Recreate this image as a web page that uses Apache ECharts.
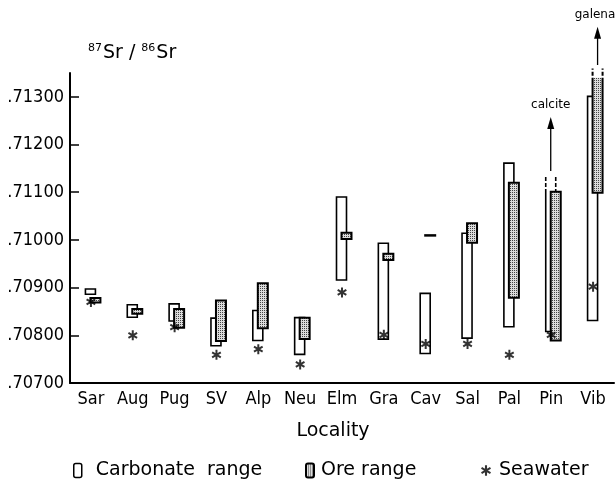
<!DOCTYPE html>
<html>
<head>
<meta charset="utf-8">
<script src="https://cdn.jsdelivr.net/npm/echarts@6/dist/echarts.min.js"></script>
<style>
  html, body { margin: 0; padding: 0; background: #fff; }
  #chart { width: 615px; height: 480px; }
</style>
</head>
<body>
<div id="chart"></div>
<script>
// 87Sr/86Sr ranges of carbonate host rocks and ores, with coeval seawater values
const categories = ['Sar', 'Aug', 'Pug', 'SV', 'Alp', 'Neu', 'Elm', 'Gra', 'Cav', 'Sal', 'Pal', 'Pin', 'Vib'];

const carbonateLow  = [0.70886, 0.70838, 0.70830, 0.70778, 0.70789, 0.70760, 0.70916, 0.70792, 0.70762, 0.70794, 0.70818, 0.70808, 0.70831];
const carbonateHigh = [0.70897, 0.70864, 0.70866, 0.70836, 0.70852, 0.70837, 0.71090, 0.70993, 0.70888, 0.71014, 0.71161, 0.71107, 0.71301];

const oreLow  = [0.70869, 0.70845, 0.70816, 0.70788, 0.70815, 0.70792, 0.71002, 0.70958, 0.71010, 0.70994, 0.70879, 0.70789, 0.71099];
const oreHigh = [0.70878, 0.70855, 0.70855, 0.70873, 0.70909, 0.70837, 0.71015, 0.70971, 0.71010, 0.71035, 0.71120, 0.71101, 0.71340];

const seawater = [0.70870, 0.70800, 0.70817, 0.70759, 0.70771, 0.70739, 0.70890, 0.70801, 0.70782, 0.70782, 0.70759, 0.70801, 0.70902];

// ranges that continue off the scale: arrow tip value and mineral label
const carbonateArrowTo    = [null, null, null, null, null, null, null, null, null, null, null, 0.71258, null];
const carbonateArrowLabel = [null, null, null, null, null, null, null, null, null, null, null, 'calcite', null];
const oreArrowTo    = [null, null, null, null, null, null, null, null, null, null, null, null, 0.71447];
const oreArrowLabel = [null, null, null, null, null, null, null, null, null, null, null, null, 'galena'];

const yTicks = [0.707, 0.708, 0.709, 0.710, 0.711, 0.712, 0.713];

const FONT = "'DejaVu Sans', sans-serif";
const FONT_NARROW = "'DejaVu Sans Condensed', 'DejaVu Sans', sans-serif";

// fine dot stipple used for the ore boxes
function makeStipple() {
  const c = document.createElement('canvas');
  c.width = 2; c.height = 2;
  const ctx = c.getContext('2d');
  ctx.fillStyle = '#dcdcdc';
  ctx.fillRect(0, 0, 2, 2);
  ctx.fillStyle = '#444';
  ctx.fillRect(0, 0, 1, 1);
  return c;
}
const stipple = { image: makeStipple(), repeat: 'repeat' };

// six-armed asterisk symbol
function asteriskPath() {
  const L = 5, W = 1.0;
  let d = '';
  [90, 30, -30].forEach(function (a) {
    const r = a * Math.PI / 180;
    const dx = Math.cos(r), dy = -Math.sin(r);
    const px = -dy, py = dx;
    const pts = [
      [L * dx + W * px, L * dy + W * py],
      [L * dx - W * px, L * dy - W * py],
      [-L * dx - W * px, -L * dy - W * py],
      [-L * dx + W * px, -L * dy + W * py]
    ];
    d += 'M' + pts.map(function (p) { return p[0].toFixed(3) + ',' + p[1].toFixed(3); }).join('L') + 'Z';
  });
  return 'path://' + d;
}
const ASTERISK = asteriskPath();

// box renderer: x0/x1 are pixel offsets from the category centre
function boxRenderer(x0, x1, fill, lw, arrowTo, arrowLabel) {
  return function (params, api) {
    const i = api.value(0);
    const lo = api.coord([i, api.value(1)]);
    const hi = api.coord([i, api.value(2)]);
    const cx = lo[0];
    const left = cx + x0, right = cx + x1;
    const yb = lo[1], yt = hi[1];
    const children = [];
    const tip = arrowTo[i];
    if (tip == null) {
      children.push({
        type: 'rect',
        shape: { x: left, y: yt, width: right - left, height: Math.max(yb - yt, 0.5) },
        style: { fill: fill, stroke: '#000', lineWidth: lw }
      });
    } else {
      // open-topped box, short dashed continuation and arrow to the off-scale value
      const tipPt = api.coord([i, tip]);
      const mid = (left + right) / 2;
      const span = yt - tipPt[1];
      const dashEnd = yt - span * 0.18;
      const arrowStart = yt - span * 0.25;
      children.push({
        type: 'rect',
        shape: { x: left, y: yt, width: right - left, height: yb - yt },
        style: { fill: fill, stroke: null }
      });
      children.push({
        type: 'polyline',
        shape: { points: [[left, yt], [left, yb], [right, yb], [right, yt]] },
        style: { fill: null, stroke: '#000', lineWidth: lw }
      });
      [left, right].forEach(function (x) {
        children.push({
          type: 'line',
          shape: { x1: x, y1: yt - 2, x2: x, y2: dashEnd },
          style: { stroke: '#000', lineWidth: lw, lineDash: [4, 2] }
        });
      });
      children.push({
        type: 'line',
        shape: { x1: mid, y1: arrowStart, x2: mid, y2: tipPt[1] + 8 },
        style: { stroke: '#000', lineWidth: 1.3 }
      });
      children.push({
        type: 'polygon',
        shape: { points: [[mid, tipPt[1]], [mid - 3.5, tipPt[1] + 12], [mid + 3.5, tipPt[1] + 12]] },
        style: { fill: '#000' }
      });
      children.push({
        type: 'text',
        style: {
          text: arrowLabel[i], x: Math.min(mid, 595), y: tipPt[1] - 6,
          align: 'center', verticalAlign: 'bottom',
          font: '12px ' + FONT, fill: '#000'
        }
      });
    }
    return { type: 'group', children: children };
  };
}

const chart = echarts.init(document.getElementById('chart'), null, { renderer: 'canvas' });

chart.setOption({
  animation: false,
  backgroundColor: '#fff',
  textStyle: { fontFamily: FONT, color: '#000' },
  title: {
    left: 83, top: 38,
    text: '{s|87}{m|Sr / }{s|86}{m|Sr}',
    textStyle: {
      fontWeight: 'normal',
      rich: {
        s: { fontSize: 11, fontFamily: FONT, fontWeight: 'normal', color: '#000', padding: [0, 1, 9, 0] },
        m: { fontSize: 19, fontFamily: FONT, fontWeight: 'normal', color: '#000' }
      }
    }
  },
  grid: { left: 70, right: 1, top: 73, bottom: 97 },
  xAxis: {
    type: 'category',
    data: categories,
    boundaryGap: true,
    axisLine: { lineStyle: { color: '#000', width: 2 } },
    axisTick: { alignWithLabel: true, inside: true, length: 9, lineStyle: { color: '#000', width: 1.5 } },
    axisLabel: { color: '#000', fontSize: 18, fontFamily: FONT_NARROW, margin: 7, interval: 0 },
    name: 'Locality',
    nameLocation: 'middle',
    nameGap: 39,
    nameTextStyle: { color: '#000', fontSize: 19, fontFamily: FONT, padding: [0, 18, 0, 0] }
  },
  yAxis: {
    type: 'value',
    min: 0.707,
    max: 0.7135,
    axisLine: { show: true, lineStyle: { color: '#000', width: 2 } },
    axisTick: { show: true, inside: true, length: 9, customValues: yTicks, lineStyle: { color: '#000', width: 1.5 } },
    axisLabel: {
      color: '#000', fontSize: 18, fontFamily: FONT_NARROW, margin: 6,
      customValues: yTicks,
      formatter: function (v) { return v.toFixed(5).slice(1); }
    },
    splitLine: { show: false }
  },
  legend: [
    {
      left: 68, top: 456, selectedMode: false,
      itemWidth: 8, itemHeight: 14,
      textStyle: { fontSize: 19, fontFamily: FONT, color: '#000', padding: [0, 0, 0, 9] },
      data: [{ name: 'Carbonate  range', icon: 'roundRect', itemStyle: { color: '#fff', borderColor: '#000', borderWidth: 1.5 } }]
    },
    {
      left: 300, top: 456, selectedMode: false,
      itemWidth: 8, itemHeight: 14,
      textStyle: { fontSize: 19, fontFamily: FONT, color: '#000', padding: [0, 0, 0, 2] },
      data: [{ name: 'Ore range', icon: 'roundRect', itemStyle: { color: stipple, borderColor: '#000', borderWidth: 2 } }]
    },
    {
      left: 476, top: 456, selectedMode: false,
      itemWidth: 10, itemHeight: 14,
      textStyle: { fontSize: 19, fontFamily: FONT, color: '#000', padding: [0, 0, 0, 3] },
      data: [{ name: 'Seawater', icon: ASTERISK, itemStyle: { color: '#000' } }]
    }
  ],
  series: [
    {
      name: 'Carbonate  range',
      type: 'custom',
      itemStyle: { color: '#fff', borderColor: '#000' },
      renderItem: boxRenderer(-5.5, 4.5, '#fff', 1.6, carbonateArrowTo, carbonateArrowLabel),
      encode: { x: 0, y: [1, 2] },
      data: categories.map(function (c, i) { return [i, carbonateLow[i], carbonateHigh[i]]; }),
      z: 2
    },
    {
      name: 'Ore range',
      type: 'custom',
      itemStyle: { color: stipple, borderColor: '#000' },
      renderItem: boxRenderer(-0.5, 9.5, stipple, 2, oreArrowTo, oreArrowLabel),
      encode: { x: 0, y: [1, 2] },
      data: categories.map(function (c, i) { return [i, oreLow[i], oreHigh[i]]; }),
      z: 3
    },
    {
      name: 'Seawater',
      type: 'scatter',
      symbol: ASTERISK,
      symbolKeepAspect: true,
      symbolSize: 10,
      itemStyle: { color: '#000' },
      data: categories.map(function (c, i) { return [i, seawater[i]]; }),
      z: 4
    }
  ]
});
</script>
</body>
</html>
